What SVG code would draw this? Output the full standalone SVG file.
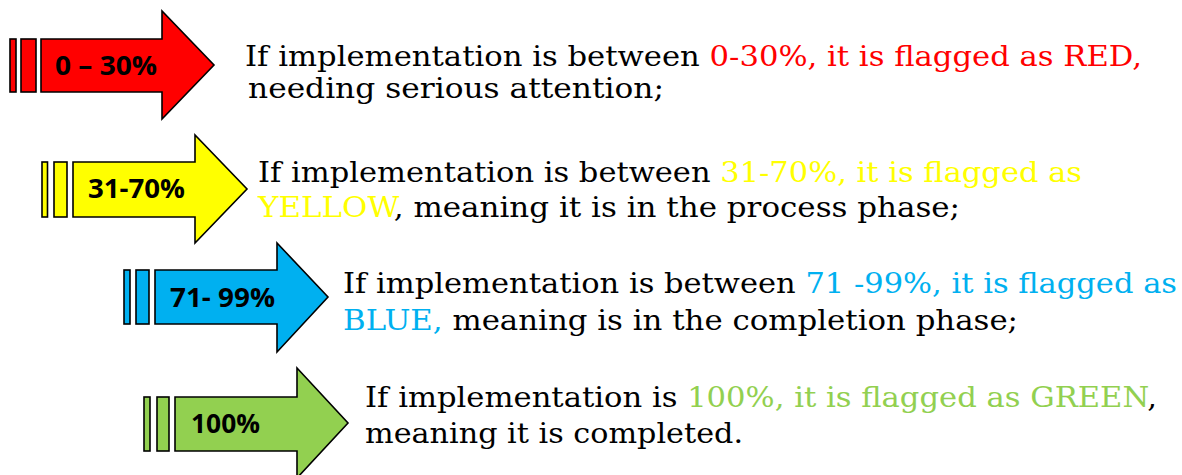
<svg xmlns="http://www.w3.org/2000/svg" width="1182" height="475" viewBox="0 0 1182 475">
<style>
.sh{stroke:#000;stroke-width:1.6;stroke-linejoin:miter}
.red{fill:#FF0000}.yel{fill:#FFFF00}.blu{fill:#00B0F0}.grn{fill:#92D050}
.lbl{font-family:"Open Sans","Liberation Sans",sans-serif;font-weight:700;font-size:27px;fill:#000;text-anchor:middle}
.txt{font-family:"DejaVu Serif","Liberation Serif",serif;font-size:27px;fill:#000}
.cr{fill:#FF0000}.cy{fill:#FFFF00}.cb{fill:#00B0F0}.cg{fill:#92D050}
</style>
<rect width="1182" height="475" fill="#fff"/>
<g id="arrow-red">
<rect class="sh red" x="10" y="39" width="6" height="53"/>
<rect class="sh red" x="21" y="39" width="15" height="53"/>
<polygon class="sh red" points="41,39 162,39 162,11 214,65 162,119 162,92 41,92"/>
<text class="lbl" x="106" y="75" textLength="102" lengthAdjust="spacingAndGlyphs">0 – 30%</text>
</g>
<g id="arrow-yellow">
<rect class="sh yel" x="42" y="162" width="5.5" height="55"/>
<rect class="sh yel" x="54" y="162" width="13" height="55"/>
<polygon class="sh yel" points="73,162 195,162 195,135 247,189 195,243 195,217 73,217"/>
<text class="lbl" x="136.5" y="198" textLength="97" lengthAdjust="spacingAndGlyphs">31-70%</text>
</g>
<g id="arrow-blue">
<rect class="sh blu" x="124" y="270" width="6" height="54"/>
<rect class="sh blu" x="136" y="270" width="13" height="54"/>
<polygon class="sh blu" points="155,270 277,270 277,243 328,297 277,352 277,324 155,324"/>
<text class="lbl" x="222.5" y="307" textLength="105" lengthAdjust="spacingAndGlyphs">71- 99%</text>
</g>
<g id="arrow-green">
<rect class="sh grn" x="144" y="397" width="6" height="54"/>
<rect class="sh grn" x="157" y="397" width="12" height="54"/>
<polygon class="sh grn" points="175,397 297,397 297,368 348,423 297,478 297,451 175,451"/>
<text class="lbl" x="225.5" y="433" textLength="69" lengthAdjust="spacingAndGlyphs">100%</text>
</g>
<g id="text-red">
<text class="txt" x="245" y="66" textLength="897" lengthAdjust="spacingAndGlyphs">If implementation is between <tspan class="cr">0-30%, it is flagged as RED,</tspan></text>
<text class="txt" x="248" y="98" textLength="416" lengthAdjust="spacingAndGlyphs">needing serious attention;</text>
</g>
<g id="text-yellow">
<text class="txt" x="258" y="182" textLength="824" lengthAdjust="spacingAndGlyphs">If implementation is between <tspan class="cy">31-70%, it is flagged as</tspan></text>
<text class="txt" x="258" y="217" textLength="702" lengthAdjust="spacingAndGlyphs"><tspan class="cy">YELLOW</tspan>, meaning it is in the process phase;</text>
</g>
<g id="text-blue">
<text class="txt" x="343" y="293" textLength="834" lengthAdjust="spacingAndGlyphs">If implementation is between <tspan class="cb">71 -99%, it is flagged as</tspan></text>
<text class="txt" x="343" y="330" textLength="675" lengthAdjust="spacingAndGlyphs"><tspan class="cb">BLUE,</tspan> meaning is in the completion phase;</text>
</g>
<g id="text-green">
<text class="txt" x="365" y="407" textLength="792" lengthAdjust="spacingAndGlyphs">If implementation is <tspan class="cg">100%, it is flagged as GREEN</tspan>,</text>
<text class="txt" x="365" y="443" textLength="378" lengthAdjust="spacingAndGlyphs">meaning it is completed.</text>
</g>
</svg>
